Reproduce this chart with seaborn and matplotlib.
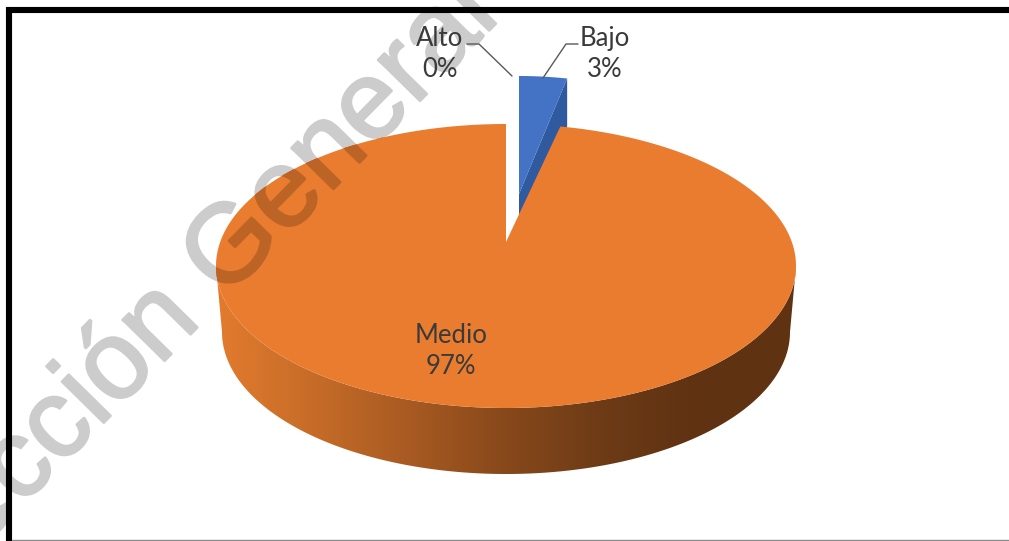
import numpy as np
import matplotlib
matplotlib.use("Agg")
import matplotlib.pyplot as plt
import matplotlib.patheffects as pe
from matplotlib.patches import Polygon
import seaborn as sns

# Survey share per level
categories = ["Bajo", "Medio", "Alto"]
percent = [3, 97, 0]
slice_colors = ["#4472C4", "#EA7C30", "#A5A5A5"]
cut_face_color = "#2F5AA0"
side_stops = ["#E27B2E", "#C66C28", "#A85A22", "#87481B", "#6D3B16", "#5F3212", "#5F3212"]
watermark = "Dirección General"

sns.set_theme(style="white")
plt.rcParams["font.family"] = ["Lato", "DejaVu Sans"]

W, H = 1009, 541
fig = plt.figure(figsize=(W / 100, H / 100), dpi=100)
ax = fig.add_axes([0, 0, 1, 1])
ax.axis("off")

# Projected pie geometry, in pixels
CX, CY, RX, RY = 506, 266, 290, 142
APEX_Y = 242
LOWER_CY, LOWER_RX, LOWER_RY = 332, 284, 142


def rim(theta, rx=RX, cx=CX, cy=CY, ry=RY):
    """Rim point for an angle measured clockwise from twelve o'clock."""
    return cx + rx * np.sin(theta), cy - ry * np.cos(theta)


shares = np.array(percent, dtype=float) / sum(percent)
edges = np.concatenate([[0], np.cumsum(shares) * 2 * np.pi])

# Side wall with a left-to-right shading ramp, clipped to the visible band
lo = np.linspace(0, np.pi, 300)
top_edge = np.column_stack([CX + RX * np.cos(lo), CY + RY * np.sin(lo)])
bottom_edge = np.column_stack([CX + LOWER_RX * np.cos(lo), LOWER_CY + LOWER_RY * np.sin(lo)])
band = Polygon(np.vstack([top_edge, bottom_edge[::-1]]), closed=True, fc="none", ec="none")
ax.add_patch(band)
ramp = np.array(sns.blend_palette(side_stops, 256))[np.newaxis, :, :3]
img = ax.imshow(ramp, extent=(CX - RX, CX + RX, 480, 260), aspect="auto", zorder=1)
img.set_clip_path(band)
ax.set_xlim(0, W)
ax.set_ylim(H, 0)

# Exploded small slice: top face and the cut face beneath it
BAJO_DX, BAJO_DY, BAJO_RX = 13, -48, 257
th = np.linspace(edges[0], edges[1], 40)
bx, by = rim(th, rx=BAJO_RX, cx=CX + BAJO_DX, cy=CY + BAJO_DY)
bajo_apex = (CX + BAJO_DX, APEX_Y + BAJO_DY)
WALL = 48
ax.add_patch(Polygon([(bx[-1], by[-1]), bajo_apex, (bajo_apex[0], bajo_apex[1] + WALL),
                      (bx[-1], by[-1] + WALL)], closed=True, fc=cut_face_color, ec="none", zorder=2))
ax.add_patch(Polygon(np.vstack([[bajo_apex], np.column_stack([bx, by])]), closed=True,
                     fc=slice_colors[0], ec="none", zorder=3))

# Large slice: apex plus the rim from the end of the small slice round to the top
th = np.linspace(edges[1], edges[2], 600)
mx, my = rim(th)
medio = Polygon(np.vstack([[(CX, APEX_Y)], np.column_stack([mx, my])]), closed=True,
                fc=slice_colors[1], ec="none", zorder=4)
ax.add_patch(medio)

# Diagonal stamp: pale on the paper, a darker shade where it crosses the orange face
stamp_style = dict(rotation=45.5, rotation_mode="anchor", ha="center", va="center", fontsize=80,
                   family="Liberation Sans")
STAMP_X, STAMP_Y = 169, 315
ax.text(STAMP_X, STAMP_Y, watermark, color="#CCCCCC", zorder=0.5,
        path_effects=[pe.withStroke(linewidth=1.8, foreground="#CCCCCC")], **stamp_style)
over = ax.text(STAMP_X, STAMP_Y, watermark, color="#BC6326", zorder=4.5,
               path_effects=[pe.withStroke(linewidth=1.8, foreground="#BC6326")], **stamp_style)
over.set_clip_on(True)
over.set_clip_path(medio)

# Labels and leader lines
label_color = "#3A3A3A"
label_pos = {"Alto": (440, 54), "Bajo": (605, 54), "Medio": (451, 351)}
for name, value in zip(categories, percent):
    x, y = label_pos[name]
    ax.text(x, y, f"{name}\n{value}%", ha="center", va="center", fontsize=18.5,
            color=label_color, linespacing=1.33, zorder=6)
ax.plot([467, 479, 512], [44, 44, 76], color="#595959", lw=1, zorder=5)
ax.plot([578, 566, 543], [44, 44, 78], color="#595959", lw=1, zorder=5)

# Frame
ax.plot([6, W], [10, 10], color="black", lw=4.4, solid_capstyle="butt", zorder=8)
ax.plot([9, 9], [7, H], color="black", lw=4.4, solid_capstyle="butt", zorder=8)
ax.plot([12, W], [540, 540], color="#8c8c8c", lw=1, zorder=8)

fig.savefig("out.png", dpi=100, facecolor="white")
